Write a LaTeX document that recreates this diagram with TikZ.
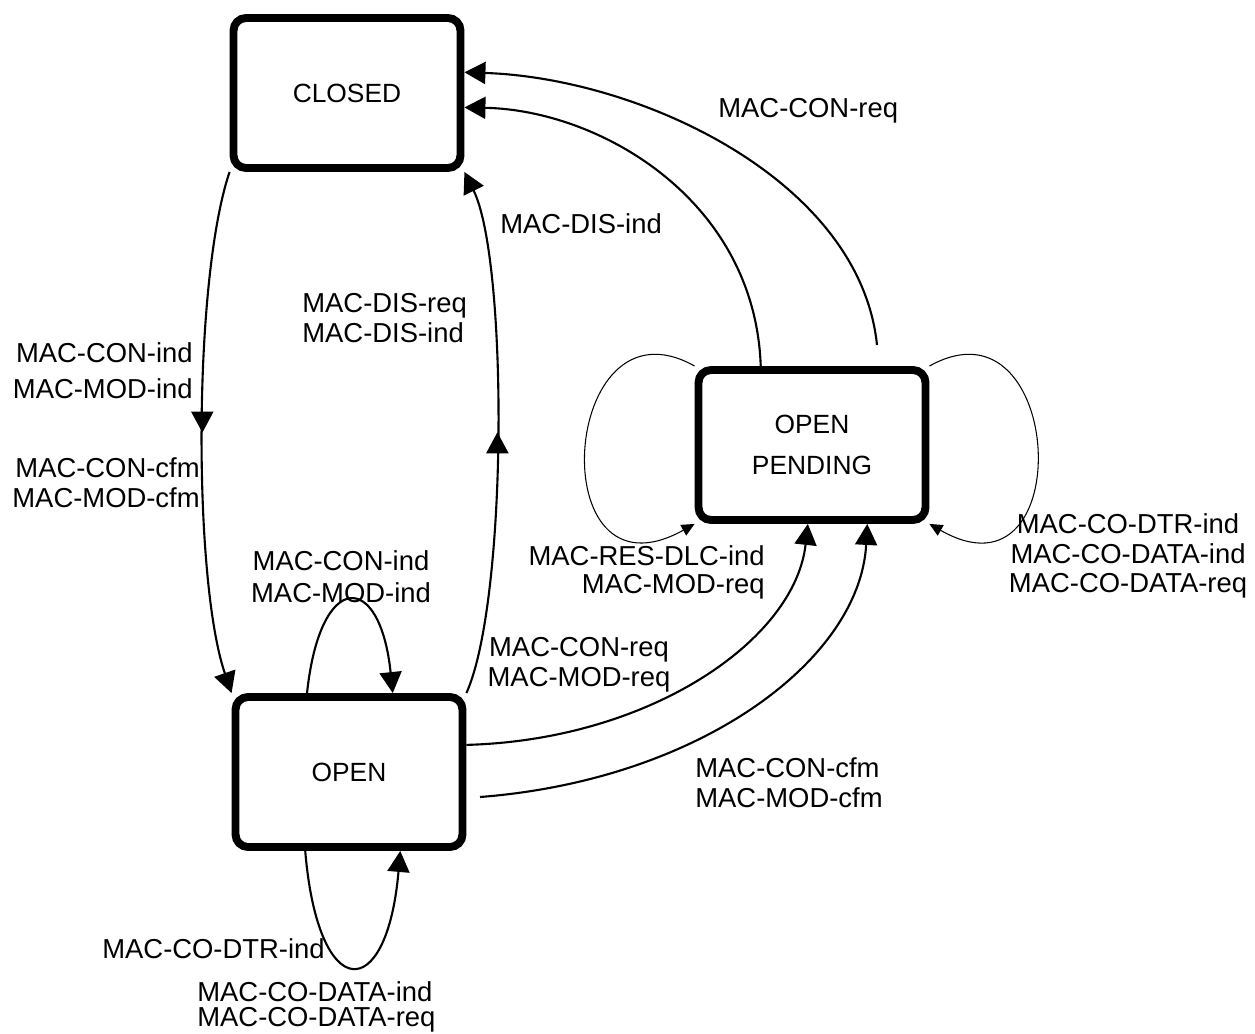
\documentclass[tikz,border=0pt]{standalone}
\usepackage{fontspec}
\setmainfont{Liberation Sans}
\usetikzlibrary{arrows.meta, decorations.markings}

\begin{document}
\begin{tikzpicture}[x=0.02cm, y=-0.02cm,
					font=\fontsize{15.6}{17}\selectfont,
					statebox/.style={draw, rectangle, line width=4.5pt, rounded corners=0.25cm, minimum width=4.54cm, minimum height=3cm, align=center, font=\fontsize{15}{23}\selectfont},
					trans/.style={line width=1.2pt, -{Triangle[length=0.42cm, width=0.44cm]}},
					thintrans/.style={line width=0.6pt, -{Triangle[length=0.26cm, width=0.24cm]}},
					midarrow/.style={postaction={decorate}, decoration={markings, mark=at position 0.5 with {\arrow{Triangle[length=0.42cm, width=0.44cm]}}}},
					lbl/.style={inner sep=0pt}]
					\useasboundingbox (0,0) rectangle (1255,1034);
					\node[statebox] (closed) at (347,93) {CLOSED};
					\node[statebox] (pend) at (812,445) {OPEN\\PENDING};
					\node[statebox] (open) at (349,772) {OPEN};
					\coordinate (pendreq) at (877,345);
					\coordinate (opencfm) at (480,797);
					\draw[trans, midarrow] (closed.south west) .. controls (193,280) and (193,580) .. (open.north west);
					\draw[trans, midarrow] (open.north east) .. controls (508,600) and (508,260) .. (closed.south east);
					\draw[trans] (pend.123) .. controls (755,200) and (600,110) .. (closed.-7);
					\draw[trans] (pendreq) .. controls (860,180) and (640,78) .. (closed.10);
					\draw[trans] (open.13) .. controls (650,740) and (795,640) .. (pend.-93);
					\draw[trans] (opencfm) .. controls (700,780) and (860,660) .. (pend.-55);
					\draw[trans] (open.118) .. controls (320,570) and (380,570) .. (open.61);
					\draw[trans] (open.-119) .. controls (318,1005) and (387,1005) .. (open.-57);
					\draw[thintrans] (pend.north west) .. controls (560,290) and (540,610) .. (pend.south west);
					\draw[thintrans] (pend.north east) .. controls (1065,290) and (1080,610) .. (pend.south east);
					\node[lbl, anchor=north west] (lconreq) at (718,98) {MAC-CON-req};
					\node[lbl, anchor=north west] (ldisind) at (500,213) {MAC-DIS-ind};
					\node[lbl, anchor=north west, align=left] (ldisreq) at (302,293) {MAC-DIS-req\\MAC-DIS-ind};
					\node[lbl, anchor=north east, align=right, font=\fontsize{15.6}{20.5}\selectfont] (lconind) at (193,342) {MAC-CON-ind\\MAC-MOD-ind};
					\node[lbl, anchor=north east, align=right] (lconcfm) at (200,457) {MAC-CON-cfm\\MAC-MOD-cfm};
					\node[lbl, anchor=north, align=center, font=\fontsize{15.6}{18.2}\selectfont] (lopenind) at (341,550) {MAC-CON-ind\\MAC-MOD-ind};
					\node[lbl, anchor=north east, align=right, font=\fontsize{15.6}{16}\selectfont] (lresdlc) at (765,545) {MAC-RES-DLC-ind\\MAC-MOD-req};
					\node[lbl, anchor=north, align=center] (lopenreq) at (579,637) {MAC-CON-req\\MAC-MOD-req};
					\node[lbl, anchor=north west, align=left] (lopencfm) at (695,757) {MAC-CON-cfm\\MAC-MOD-cfm};
					\node[lbl, anchor=north, align=center] (lpenddata) at (1128,513) {MAC-CO-DTR-ind\\MAC-CO-DATA-ind\\MAC-CO-DATA-req};
					\node[lbl, anchor=north west] (ldtrind) at (102,938) {MAC-CO-DTR-ind};
					\node[lbl, anchor=north west, align=left, font=\fontsize{15.6}{14.2}\selectfont] (ldataind) at (197,981) {MAC-CO-DATA-ind\\MAC-CO-DATA-req};
				\end{tikzpicture}
\end{document}
